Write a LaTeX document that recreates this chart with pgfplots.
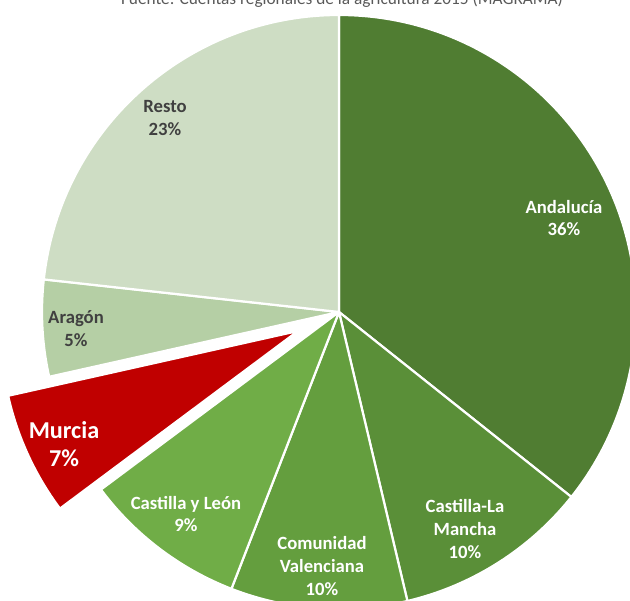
\documentclass[border=0pt]{standalone}
\usepackage{pgfplots}
\pgfplotsset{compat=1.18}
\usepackage{fontspec}
\setmainfont{Carlito}

\definecolor{cAnd}{RGB}{80,125,50}
\definecolor{cClm}{RGB}{90,143,56}
\definecolor{cCv}{RGB}{100,158,62}
\definecolor{cCyl}{RGB}{112,173,71}
\definecolor{cMur}{RGB}{192,0,0}
\definecolor{cAra}{RGB}{181,207,165}
\definecolor{cRes}{RGB}{206,221,196}
\definecolor{txtgray}{RGB}{64,64,64}
\definecolor{titlegray}{RGB}{89,89,89}

% shares (%), clockwise from 12 o'clock
\def\vAnd{35.7}
\def\vClm{10.6}
\def\vCv{9.6}
\def\vCyl{8.9}
\def\vMur{6.7}
\def\vAra{5.25}
\def\vRes{23.2}

\pgfmathsetmacro\aA{90}
\pgfmathsetmacro\aB{\aA-3.6*\vAnd}
\pgfmathsetmacro\aC{\aB-3.6*\vClm}
\pgfmathsetmacro\aD{\aC-3.6*\vCv}
\pgfmathsetmacro\aE{\aD-3.6*\vCyl}
\pgfmathsetmacro\aF{\aE-3.6*\vMur}
\pgfmathsetmacro\aG{\aF-3.6*\vAra}
\pgfmathsetmacro\aH{-270}

\def\R{297}
% slice: colour, start angle, end angle, centre x, centre y
\newcommand\slice[5]{%
  \fill[#1, draw=white, line width=1.6pt, line join=round]
    (axis cs:#4,#5) -- ++(#2:\R) arc[start angle=#2, end angle=#3, radius=\R] -- cycle;}

\tikzset{
  lbl/.style={align=center, font=\bfseries\fontsize{13.5}{16.5}\selectfont},
  biglbl/.style={align=center, font=\bfseries\fontsize{17.5}{20}\selectfont},
}

\begin{document}
\begin{tikzpicture}
\begin{axis}[
  width=16cm, height=15.263cm, scale only axis,
  xmin=0, xmax=630, ymin=0, ymax=601,
  hide axis, clip=true,
]
\slice{cAnd}{\aA}{\aB}{339}{289}
\slice{cClm}{\aB}{\aC}{339}{289}
\slice{cCv}{\aC}{\aD}{339}{289}
\slice{cCyl}{\aD}{\aE}{339}{289}
\slice{cAra}{\aF}{\aG}{339}{289}
\slice{cRes}{\aG}{\aH}{339}{289}
\slice{cMur}{\aE}{\aF}{298}{270}

\node[lbl, text=white] at (axis cs:564,383) {Andalucía\\36\%};
\node[lbl, text=white] at (axis cs:465,72) {Castilla-La\\Mancha\\10\%};
\node[lbl, text=white] at (axis cs:322,35) {Comunidad\\Valenciana\\10\%};
\node[lbl, text=white] at (axis cs:186,87) {Castilla y León\\9\%};
\node[biglbl, text=white] at (axis cs:64,157) {Murcia\\7\%};
\node[lbl, text=txtgray] at (axis cs:76,272) {Aragón\\5\%};
\node[lbl, text=txtgray] at (axis cs:165,483) {Resto\\23\%};
\node[text=titlegray, anchor=base, font=\fontsize{12.5}{14}\selectfont] at (axis cs:342,596)
  {Fuente: Cuentas regionales de la agricultura 2015 (MAGRAMA)};
\end{axis}
\pgfresetboundingbox
\path (current axis.south west) rectangle (current axis.north east);
\end{tikzpicture}
\end{document}
